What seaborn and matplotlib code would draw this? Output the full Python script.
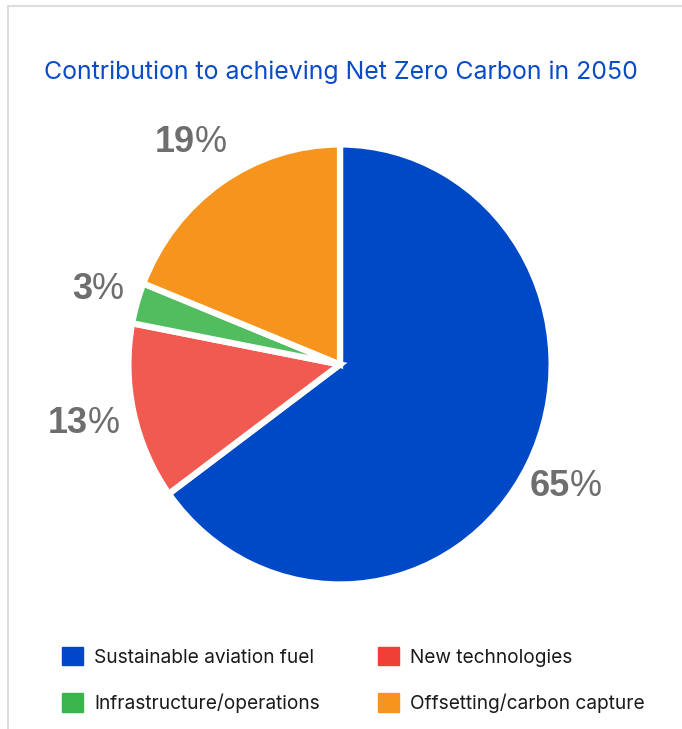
import matplotlib
matplotlib.use("Agg")
import matplotlib.pyplot as plt
import seaborn as sns
import numpy as np
from matplotlib.patches import Patch
from matplotlib.lines import Line2D

sns.set_theme(style="white")
plt.rcParams['font.family'] = ['Inter', 'DejaVu Sans']

categories = ["Sustainable aviation fuel", "New technologies",
              "Infrastructure/operations", "Offsetting/carbon capture"]
values = [65, 13, 3, 19]
pie_colors = ["#0049C6", "#F05A50", "#52BD5F", "#F7941D"]
legend_colors = ["#0046C8", "#EE4036", "#3AB54A", "#F7941E"]
title = "Contribution to achieving Net Zero Carbon in 2050"

fig = plt.figure(figsize=(6.82, 7.29), dpi=100)
fig.patch.set_facecolor("white")

# light frame lines (top and left)
fig.add_artist(Line2D([8/682, 1.0], [1 - 6/729, 1 - 6/729], color="#DDDDDD", lw=1.5,
                      transform=fig.transFigure))
fig.add_artist(Line2D([8/682, 8/682], [0.0, 1 - 6/729], color="#DDDDDD", lw=1.5,
                      transform=fig.transFigure))

ax = fig.add_axes([0.1107, 0.1228, 0.7757, 0.7545])
wedges, _ = ax.pie(values, colors=pie_colors, startangle=90, counterclock=False,
                   wedgeprops=dict(edgecolor="white", linewidth=4.5))
ax.set_xlim(-1.25, 1.25)
ax.set_ylim(-1.25, 1.25)
ax.set_aspect("auto")
ax.axis("off")

for w, v in zip(wedges, values):
    ang = np.deg2rad((w.theta1 + w.theta2) / 2)
    d = 1.22
    x, y = d * np.cos(ang), d * np.sin(ang)
    ax.text(x, y, f"{v}", ha="right", va="center", fontsize=26, fontweight="bold",
            color="#6E6E6E", family=["Liberation Sans", "DejaVu Sans"])
    ax.text(x, y, "%", ha="left", va="center", fontsize=26, fontweight="normal",
            color="#6E6E6E", family=["Liberation Sans", "DejaVu Sans"])

fig.text(341/682, 1 - 72/729, title, ha="center", va="center", fontsize=17.9,
         color="#0A4BC8")

handles = [Patch(facecolor=c, edgecolor=c) for c in legend_colors]
# row1: SAF, New tech; row2: Infra, Offsetting (ncol fills column-wise)
order = [0, 2, 1, 3]
leg = fig.legend([handles[i] for i in order], [categories[i] for i in order],
                 ncol=2, loc="center left", bbox_to_anchor=(62/682, 1 - 680/729),
                 frameon=False, fontsize=13.75, handlelength=1.1, handleheight=1.1,
                 handletextpad=0.6, columnspacing=3.0, labelspacing=1.4,
                 borderpad=0, borderaxespad=0)
for t in leg.get_texts():
    t.set_color("#1A1A1A")

fig.savefig("out.png", dpi=100, facecolor="white")
